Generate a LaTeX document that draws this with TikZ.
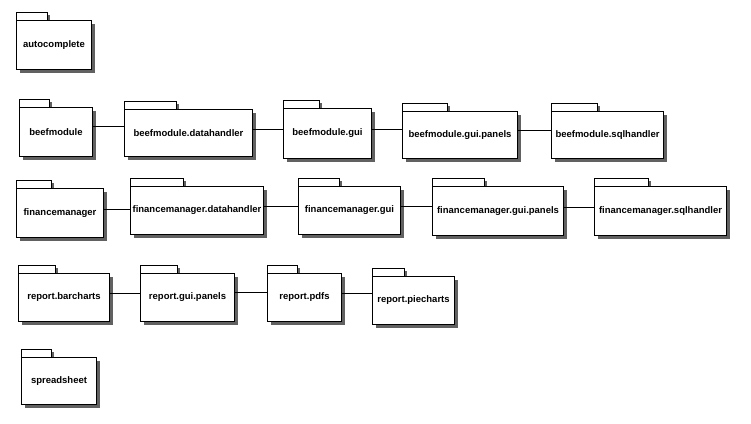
\documentclass[tikz,border=0pt]{standalone}
\usepackage{fontspec}
\setmainfont{Liberation Sans}
\usetikzlibrary{shadows}

\tikzset{
	pkgshadow/.style={drop shadow={shadow xshift=3pt, shadow yshift=-3pt, opacity=1, fill=black!62}},
	pkg/.style={draw, fill=white, line width=1pt, rectangle, inner sep=0pt, anchor=north west,
		font=\fontsize{9.5}{11}\selectfont\bfseries, pkgshadow},
	pkgtab/.style={draw, fill=white, line width=1pt, pkgshadow},
	link/.style={line width=1pt}
}

% name, x, y, width, height, tab width, text
\newcommand{\package}[7]{%
	\path[pkgtab] (#2,#3) rectangle ++(#6,-8);
	\node[pkg, minimum width=#4pt, minimum height=#5pt] (#1) at (#2,#3) {#7};
}

\begin{document}
\begin{tikzpicture}[x=1pt,y=-1pt]

		\useasboundingbox (0,0) rectangle (751,423);

		\package{ac}{16}{20}{75}{49}{31}{autocomplete}

		\package{bm}{19}{107}{73}{49}{30}{beefmodule}
		\package{bmdh}{124}{109}{128}{47}{52}{beefmodule.datahandler}
		\package{bmgui}{283}{108}{88}{50}{36}{beefmodule.gui}
		\package{bmpan}{402}{111}{115}{47}{45}{beefmodule.gui.panels}
		\package{bmsql}{551}{111}{112}{47}{46}{beefmodule.sqlhandler}

		\package{fm}{16}{188}{87}{49}{35}{financemanager}
		\package{fmdh}{130}{186}{133}{48}{53}{financemanager.datahandler}
		\package{fmgui}{298}{186}{102}{48}{41}{financemanager.gui}
		\package{fmpan}{432}{186}{131}{49}{52}{financemanager.gui.panels}
		\package{fmsql}{594}{186}{132}{49}{54}{financemanager.sqlhandler}

		\package{rbar}{18}{273}{91}{48}{37}{report.barcharts}
		\package{rpan}{140}{273}{94}{48}{37}{report.gui.panels}
		\package{rpdf}{267}{273}{74}{48}{30}{report.pdfs}
		\package{rpie}{372}{276}{82}{48}{32}{report.piecharts}

		\package{ss}{21}{357}{75}{47}{30}{spreadsheet}

		%beefmodule
		\draw[link] ([yshift=5.5pt]bm.east) -- ([yshift=5.5pt]bm.east -| bmdh.west);
		\draw[link] ([yshift=3.5pt]bmdh.east) -- ([yshift=3.5pt]bmdh.east -| bmgui.west);
		\draw[link] ([yshift=4pt]bmgui.east) -- ([yshift=4pt]bmgui.east -| bmpan.west);
		\draw[link] ([yshift=4.5pt]bmpan.east) -- ([yshift=4.5pt]bmpan.east -| bmsql.west);

		%financemanager
		\draw[link] ([yshift=3.5pt]fm.east) -- ([yshift=3.5pt]fm.east -| fmdh.west);
		\draw[link] ([yshift=4pt]fmdh.east) -- ([yshift=4pt]fmdh.east -| fmgui.west);
		\draw[link] ([yshift=4pt]fmgui.east) -- ([yshift=4pt]fmgui.east -| fmpan.west);
		\draw[link] ([yshift=3.5pt]fmpan.east) -- ([yshift=3.5pt]fmpan.east -| fmsql.west);

		%report
		\draw[link] ([yshift=4pt]rbar.east) -- ([yshift=4pt]rbar.east -| rpan.west);
		\draw[link] ([yshift=5pt]rpan.east) -- ([yshift=5pt]rpan.east -| rpdf.west);
		\draw[link] ([yshift=4pt]rpdf.east) -- ([yshift=4pt]rpdf.east -| rpie.west);

	\end{tikzpicture}
\end{document}
